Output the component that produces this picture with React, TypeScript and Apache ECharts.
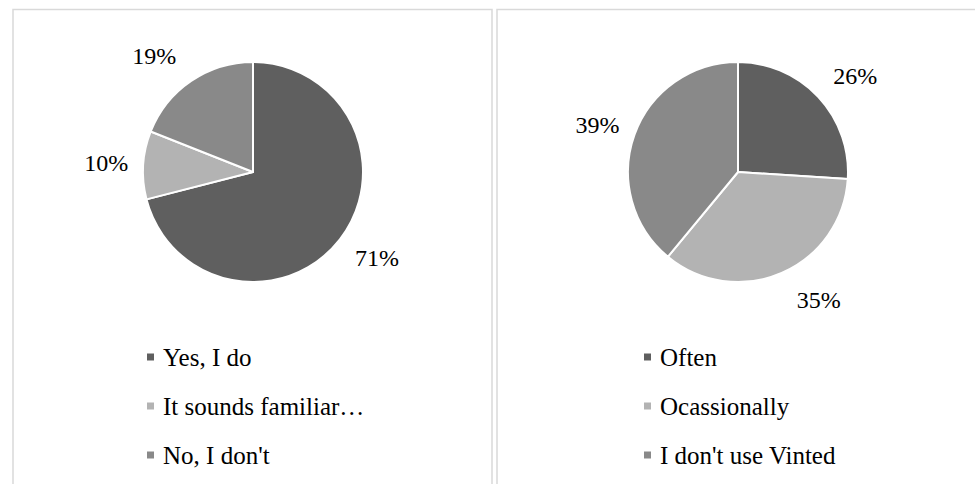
import React, { useEffect, useRef } from "react";
import * as echarts from "echarts";

const awarenessCategories = ["Yes, I do", "It sounds familiar…", "No, I don't"];
const awarenessValues = [71, 10, 19];
const usageCategories = ["Often", "Ocassionally", "I don't use Vinted"];
const usageValues = [26, 35, 39];
const sliceColors = ["#5f5f5f", "#b3b3b3", "#898989"];

const FONT = "'Liberation Serif', 'Times New Roman', serif";
const RADIUS = 110;

// Place each percentage label just outside the slice edge, along the slice's mid-angle
function makeLabelLayout(values: number[], cx: number, cy: number, r: number) {
  const total = values.reduce((a, b) => a + b, 0);
  return (params: any) => {
    const idx = params.dataIndex;
    let cum = 0;
    for (let i = 0; i < idx; i++) cum += values[i];
    const mid = ((cum + values[idx] / 2) / total) * Math.PI * 2;
    const dx = Math.sin(mid);
    const dy = -Math.cos(mid);
    const sx = Math.max(-1, Math.min(1, dx * 4));
    return {
      x: cx + r * dx + 37 * sx,
      y: cy + r * dy + 30 * dy,
      align: "center",
      verticalAlign: "middle",
    };
  };
}

export default function App() {
  const ref = useRef<HTMLDivElement>(null);
  useEffect(() => {
    if (!ref.current) return;
    const chart = echarts.init(ref.current, undefined, { renderer: "svg" });
    const pieBase = (name: string, cats: string[], vals: number[], cx: number) => ({
      type: "pie",
      name,
      center: [cx, 172],
      radius: RADIUS,
      startAngle: 90,
      clockwise: true,
      avoidLabelOverlap: false,
      itemStyle: { borderColor: "#ffffff", borderWidth: 2 },
      label: {
        show: true,
        position: "outside",
        formatter: "{c}%",
        fontFamily: FONT,
        fontSize: 24,
        color: "#000000",
      },
      labelLine: { show: false },
      labelLayout: makeLabelLayout(vals, cx, 172, RADIUS),
      emphasis: { disabled: true },
      data: cats.map((c, i) => ({
        name: c,
        value: vals[i],
        itemStyle: { color: sliceColors[i] },
      })),
    });
    const legendBase = (cats: string[], left: number) => ({
      orient: "vertical",
      left,
      top: 344.5,
      padding: 0,
      icon: "rect",
      itemWidth: 9,
      itemHeight: 9,
      itemGap: 24,
      selectedMode: false,
      data: cats,
      textStyle: {
        fontFamily: FONT,
        fontSize: 25,
        lineHeight: 25,
        color: "#000000",
        padding: [0, 0, 0, 3],
      },
    });
    chart.setOption({
      animation: false,
      backgroundColor: "#ffffff",
      graphic: [
        {
          type: "rect",
          shape: { x: 13, y: 9.5, width: 479, height: 520 },
          style: { fill: "none", stroke: "#d9d9d9", lineWidth: 1.5 },
          silent: true,
        },
        {
          type: "rect",
          shape: { x: 497, y: 9.5, width: 520, height: 520 },
          style: { fill: "none", stroke: "#d9d9d9", lineWidth: 1.5 },
          silent: true,
        },
      ],
      legend: [
        { ...legendBase(awarenessCategories, 145) },
        { ...legendBase(usageCategories, 642) },
      ],
      series: [
        pieBase("Awareness", awarenessCategories, awarenessValues, 253),
        pieBase("Usage", usageCategories, usageValues, 738),
      ],
    });
    return () => chart.dispose();
  }, []);
  return (
    <div
      ref={ref}
      style={{ position: "absolute", left: 0, top: 0, width: 975, height: 484 }}
    />
  );
}
